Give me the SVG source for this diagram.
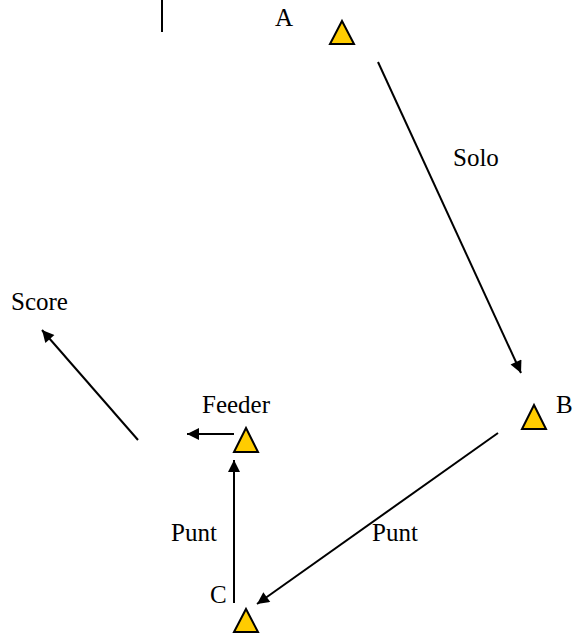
<svg xmlns="http://www.w3.org/2000/svg" width="576" height="634" viewBox="0 0 576 634">
<style>
.t{font-family:"Liberation Serif","DejaVu Serif","Noto Serif",serif;font-size:25px;fill:#000}
.tri{fill:#FFCC00;stroke:#000;stroke-width:2}
.ln{stroke:#000;stroke-width:2;fill:none}
</style>
<defs>
<marker id="ah" viewBox="0 0 10 10" refX="10" refY="5" markerWidth="15" markerHeight="12" markerUnits="userSpaceOnUse" orient="auto">
<path d="M0,0 L10,5 L0,10 z" fill="#000"/>
</marker>
</defs>
<rect width="576" height="634" fill="#fff"/>
<line x1="162" y1="0" x2="162" y2="32" class="ln"/>
<g id="nodeA">
<polygon class="tri" points="342,21 354,44 330,44"/>
<text class="t" font-family="Liberation Serif, serif" x="275" y="26">A</text>
</g>
<g id="nodeB">
<polygon class="tri" points="534,405 546,429 522,429"/>
<text class="t" font-family="Liberation Serif, serif" x="556" y="413">B</text>
</g>
<g id="nodeFeeder">
<polygon class="tri" points="246,428 258,452 234,452"/>
<text class="t" font-family="Liberation Serif, serif" x="202" y="413">Feeder</text>
</g>
<g id="nodeC">
<polygon class="tri" points="246,609 258,632 234,632"/>
<text class="t" font-family="Liberation Serif, serif" x="210" y="603">C</text>
</g>
<g id="nodeScore">
<text class="t" font-family="Liberation Serif, serif" x="11" y="310">Score</text>
</g>
<g id="connectors">
<line class="ln" x1="378" y1="62" x2="521" y2="373" marker-end="url(#ah)"/>
<line class="ln" x1="498" y1="433" x2="257" y2="604" marker-end="url(#ah)"/>
<line class="ln" x1="234" y1="603" x2="234" y2="460" marker-end="url(#ah)"/>
<line class="ln" x1="234" y1="434" x2="187" y2="434" marker-end="url(#ah)"/>
<line class="ln" x1="138" y1="440" x2="42" y2="330" marker-end="url(#ah)"/>
</g>
<text class="t" font-family="Liberation Serif, serif" x="453" y="166">Solo</text>
<text class="t" font-family="Liberation Serif, serif" x="372" y="541">Punt</text>
<text class="t" font-family="Liberation Serif, serif" x="171" y="541">Punt</text>
</svg>
